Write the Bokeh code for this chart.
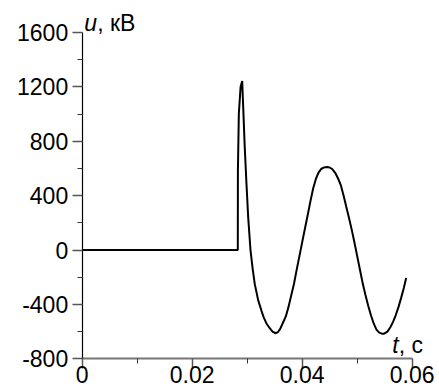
from bokeh.plotting import figure
from bokeh.models import Range1d, FixedTicker, Label
from bokeh.embed import file_html
from bokeh.resources import INLINE

# ---- data ----
t_s = [0.0, 0.02829, 0.02831, 0.02848, 0.02880, 0.02909, 0.02955, 0.02987,
       0.03018, 0.0306, 0.0310, 0.03138, 0.0320, 0.0326, 0.0330, 0.0335,
       0.0341, 0.0346, 0.0352, 0.0356, 0.0360, 0.0365, 0.0370, 0.0375,
       0.0380, 0.0385, 0.0390, 0.0395, 0.0400, 0.0405, 0.0410, 0.0415,
       0.0420, 0.0425, 0.0430, 0.0435, 0.0440, 0.0445, 0.0450, 0.0455,
       0.0460, 0.0465, 0.0470, 0.0475, 0.0480, 0.0485, 0.0490, 0.0495,
       0.0500, 0.0505, 0.0510, 0.0515, 0.0520, 0.0525, 0.0530, 0.0535,
       0.0540, 0.0545, 0.0549, 0.0555, 0.0560, 0.0565, 0.0570, 0.0575,
       0.0580, 0.0585, 0.0589]
u_kv = [0, 0, 584, 1002, 1200, 1243, 760, 486,
        240, 0, -140, -251, -370, -447, -495, -540,
        -575, -600, -612, -603, -580, -535, -490, -420,
        -335, -250, -144, -43, 58, 158, 258, 360,
        455, 525, 572, 598, 608, 611, 607, 594,
        568, 528, 480, 405, 320, 237, 150, 55,
        -45, -145, -245, -330, -410, -480, -540, -585,
        -607, -615, -615, -600, -570, -530, -480, -420,
        -350, -275, -205]

x_ticks = [0, 0.02, 0.04, 0.06]
x_tick_labels = ["0", "0.02", "0.04", "0.06"]
x_minor = [0.01, 0.03, 0.05]
y_ticks = [-800, -400, 0, 400, 800, 1200, 1600]
y_tick_labels = ["-800", "-400", "0", "400", "800", "1200", "1600"]
y_minor = [-600, -200, 200, 600, 1000, 1400]

FONT = "Liberation Sans"
FS = "23px"

# frame spans the whole canvas; axes are pinned at t=0 and u=-800
W, H = 439, 390
px0, px1 = 81.7, 411.7      # pixel columns of t=0 and t=0.06
py_top, py_bot = 32.0, 358.3  # pixel rows of u=1600 and u=-800
sx = (px1 - px0) / 0.06
sy = (py_bot - py_top) / 2400.0
x_lo = 0 - px0 / sx
x_hi = 0.06 + (W - px1) / sx
y_hi = 1600 + py_top / sy
y_lo = -800 - (H - py_bot) / sy

p = figure(width=W, height=H, output_backend="svg", toolbar_location=None,
           x_range=Range1d(x_lo, x_hi), y_range=Range1d(y_lo, y_hi),
           min_border=0)
p.outline_line_color = None
p.xgrid.visible = False
p.ygrid.visible = False
p.background_fill_color = "white"
p.border_fill_color = "white"

p.line(t_s, u_kv, line_color="black", line_width=2)

xa = p.xaxis[0]
xa.fixed_location = -800
xa.bounds = (0, 0.06)
xa.ticker = FixedTicker(ticks=x_ticks, minor_ticks=x_minor)
xa.major_label_overrides = {v: s for v, s in zip(x_ticks, x_tick_labels)}
ya = p.yaxis[0]
ya.fixed_location = 0
ya.bounds = (-800, 1600)
ya.ticker = FixedTicker(ticks=y_ticks, minor_ticks=y_minor)
ya.major_label_overrides = {v: s for v, s in zip(y_ticks, y_tick_labels)}

for ax in (xa, ya):
    ax.major_label_text_font = FONT
    ax.major_label_text_font_size = FS
    ax.major_label_text_color = "black"
    ax.major_tick_in = 0
    ax.minor_tick_in = 0
    ax.major_tick_out = 10
    ax.minor_tick_out = 5
    ax.major_tick_line_color = "#555555"
    ax.minor_tick_line_color = "#333333"
    ax.major_tick_line_width = 1.5

xa.axis_line_color = "#777777"
xa.axis_line_width = 2
xa.major_label_standoff = -3
ya.axis_line_color = "black"
ya.axis_line_width = 1.2
ya.major_label_standoff = 4

lab_u = Label(x=0, y=1600, x_offset=2, y_offset=9.5, text="u",
              text_font=FONT, text_font_size=FS, text_font_style="italic",
              text_color="black", text_baseline="alphabetic")
lab_u2 = Label(x=0, y=1600, x_offset=15, y_offset=9.5, text=", кВ",
               text_font=FONT, text_font_size=FS,
               text_color="black", text_baseline="alphabetic")
lab_t = Label(x=0.06, y=-800, x_offset=-20, y_offset=13.5, text="t",
              text_font=FONT, text_font_size=FS, text_font_style="italic",
              text_color="black", text_baseline="alphabetic")
lab_t2 = Label(x=0.06, y=-800, x_offset=-13.5, y_offset=13.5, text=", с",
               text_font=FONT, text_font_size=FS,
               text_color="black", text_baseline="alphabetic")
for l in (lab_u, lab_u2, lab_t, lab_t2):
    p.add_layout(l)

open("out.html", "w").write(file_html(p, INLINE))
